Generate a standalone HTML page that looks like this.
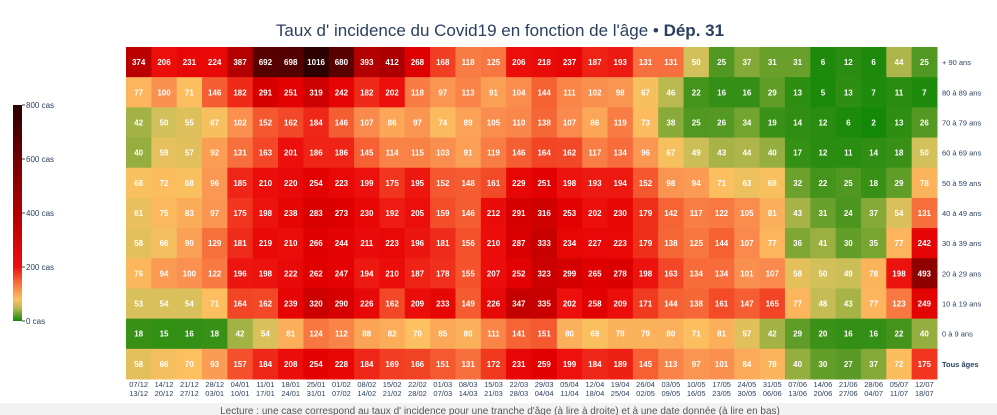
<!DOCTYPE html>
<html><head><meta charset="utf-8"><style>
body{margin:0;width:997px;height:415px;overflow:hidden;background:#fff;font-family:"Liberation Sans",sans-serif}
svg{display:block}
</style></head><body>
<svg id="s" width="997" height="415" xmlns="http://www.w3.org/2000/svg">
<defs><linearGradient id="cb" x1="0" y1="1" x2="0" y2="0">
<stop offset="0" stop-color="#138a07"/><stop offset="0.06" stop-color="#b8b850"/><stop offset="0.1" stop-color="#fcc060"/><stop offset="0.18" stop-color="#f76a3a"/><stop offset="0.25" stop-color="#ee1010"/><stop offset="0.45" stop-color="#c00000"/><stop offset="0.7" stop-color="#800000"/><stop offset="1" stop-color="#2a0000"/></linearGradient></defs>
<rect x="0" y="403" width="997" height="12" fill="#f2f2f2"/>
<text x="500" y="36" text-anchor="middle" font-size="17" fill="#2a3f5f">Taux d' incidence du Covid19 en fonction de l'âge • <tspan font-weight="bold">Dép. 31</tspan></text>
<rect x="13" y="105" width="9" height="216" fill="url(#cb)"/>
<g font-size="8" fill="#2a3f5f">
<line x1="22" x2="25" y1="105" y2="105" stroke="#444"/><text x="26" y="108">800 cas</text>
<line x1="22" x2="25" y1="159" y2="159" stroke="#444"/><text x="26" y="162">600 cas</text>
<line x1="22" x2="25" y1="213" y2="213" stroke="#444"/><text x="26" y="216">400 cas</text>
<line x1="22" x2="25" y1="267" y2="267" stroke="#444"/><text x="26" y="270">200 cas</text>
<line x1="22" x2="25" y1="321" y2="321" stroke="#444"/><text x="26" y="324">0 cas</text>
</g>
<g id="g"></g>
<text x="500" y="414" text-anchor="middle" font-size="10" fill="#555">Lecture : une case correspond au taux d' incidence pour une tranche d'âge (à lire à droite) et à une date donnée (à lire en bas)</text>
</svg>
<script>
var D=[
[374,206,231,224,387,692,698,1016,680,393,412,268,168,118,125,206,218,237,187,193,131,131,50,25,37,31,31,6,12,6,44,25],
[77,100,71,146,182,291,251,319,242,182,202,118,97,113,91,104,144,111,102,98,67,46,22,16,16,29,13,5,13,7,11,7],
[42,50,55,67,102,152,162,184,146,107,86,97,74,89,105,110,138,107,86,119,73,38,25,26,34,19,14,12,6,2,13,26],
[40,59,57,92,131,163,201,186,186,145,114,115,103,91,119,146,164,162,117,134,96,67,49,43,44,40,17,12,11,14,18,50],
[68,72,68,96,185,210,220,254,223,199,175,195,152,148,161,229,251,198,193,194,152,98,94,71,63,68,32,22,25,18,29,78],
[61,75,83,97,175,198,238,283,273,230,192,205,159,146,212,291,316,253,202,230,179,142,117,122,105,81,43,31,24,37,54,131],
[58,66,90,129,181,219,210,266,244,211,223,196,181,156,210,287,333,234,227,223,179,138,125,144,107,77,36,41,30,35,77,242],
[76,94,100,122,196,198,222,262,247,194,210,187,178,155,207,252,323,299,265,278,198,163,134,134,101,107,58,50,49,78,198,493],
[53,54,54,71,164,162,239,320,290,226,162,209,233,149,226,347,335,202,258,209,171,144,138,161,147,165,77,48,43,77,123,249],
[18,15,16,18,42,54,81,124,112,88,82,70,85,80,111,141,151,80,69,79,79,80,71,81,57,42,29,20,16,16,22,40],
[58,66,70,93,157,184,208,254,228,184,169,166,151,131,172,231,259,199,184,189,145,113,97,101,84,78,40,30,27,37,72,175]];
var L=["+ 90 ans","80 à 89 ans","70 à 79 ans","60 à 69 ans","50 à 59 ans","40 à 49 ans","30 à 39 ans","20 à 29 ans","10 à 19 ans","0 à 9 ans","Tous âges"];
var T="07/12 14/12 21/12 28/12 04/01 11/01 18/01 25/01 01/02 08/02 15/02 22/02 01/03 08/03 15/03 22/03 29/03 05/04 12/04 19/04 26/04 03/05 10/05 17/05 24/05 31/05 07/06 14/06 21/06 28/06 05/07 12/07".split(" ");
var B="13/12 20/12 27/12 03/01 10/01 17/01 24/01 31/01 07/02 14/02 21/02 28/02 07/03 14/03 21/03 28/03 04/04 11/04 18/04 25/04 02/05 09/05 16/05 23/05 30/05 06/06 13/06 20/06 27/06 04/07 11/07 18/07".split(" ");
var S=[[0,[16,135,5]],[20,[60,145,25]],[35,[120,165,50]],[50,[210,192,90]],[70,[252,192,96]],[100,[250,145,80]],[150,[245,90,48]],[200,[236,15,12]],[260,[225,0,0]],[350,[195,0,0]],[500,[140,0,0]],[800,[55,0,0]],[1100,[40,0,0]]];
function col(v){for(var i=0;i<S.length-1;i++){if(v<=S[i+1][0]){var t=(v-S[i][0])/(S[i+1][0]-S[i][0]);var a=S[i][1],b=S[i+1][1];return "rgb("+a.map(function(x,k){return Math.round(x+(b[k]-x)*t)}).join(",")+")";}}return "rgb(40,0,0)";}
var x0=126,y0=47,cw=811/32,ch=332/11,h="";
for(var r=0;r<11;r++){for(var c=0;c<32;c++){var v=D[r][c];var x=x0+c*cw,y=y0+r*ch;
h+='<rect x="'+x.toFixed(2)+'" y="'+y.toFixed(2)+'" width="'+(cw+0.5).toFixed(2)+'" height="'+(ch+0.5).toFixed(2)+'" fill="'+col(v)+'"/>';
h+='<text x="'+(x+cw/2).toFixed(2)+'" y="'+(y+ch/2+3).toFixed(2)+'" text-anchor="middle" font-size="8" font-weight="bold" fill="#fff">'+v+'</text>';}
h+='<text x="942" y="'+(y0+r*ch+ch/2+3).toFixed(2)+'" font-size="7.5" fill="#2a3f5f"'+(r==10?' font-weight="bold"':'')+'>'+L[r]+'</text>';}
for(var c=0;c<32;c++){var xc=x0+c*cw+cw/2;
h+='<text x="'+xc.toFixed(2)+'" y="387" text-anchor="middle" font-size="7.5" fill="#2a3f5f">'+T[c]+'</text>';
h+='<text x="'+xc.toFixed(2)+'" y="396" text-anchor="middle" font-size="7.5" fill="#2a3f5f">'+B[c]+'</text>';}
document.getElementById("g").innerHTML=h;
</script>
</body></html>
